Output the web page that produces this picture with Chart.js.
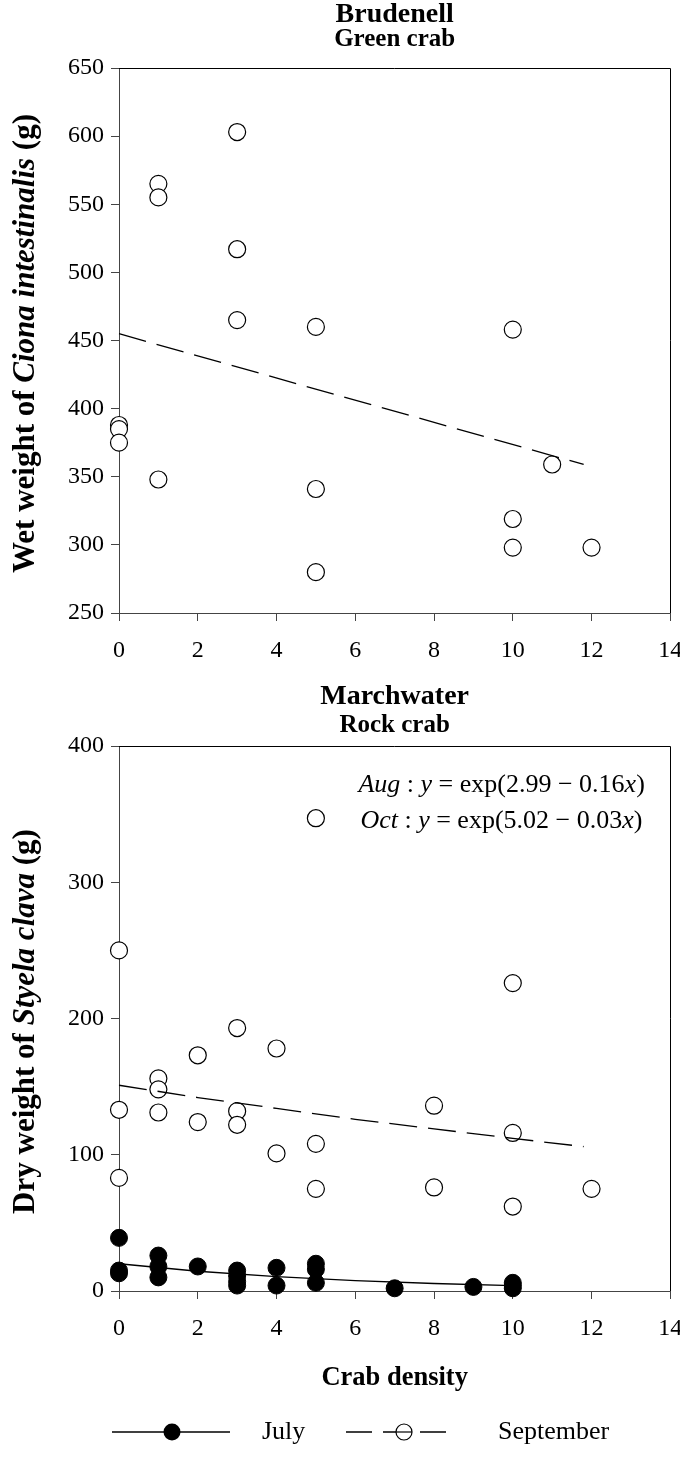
<!DOCTYPE html>
<html><head><meta charset="utf-8">
<script src="https://cdn.jsdelivr.net/npm/chart.js@4.4.0/dist/chart.umd.min.js"></script>
<style>
html,body{margin:0;padding:0;background:#fff;}
#wrap{position:relative;width:680px;height:1460px;background:#fff;}
.box{position:absolute;left:0;width:680px;}
</style></head><body>
<div id="wrap">
<div class="box" style="top:0;height:680px"><canvas id="c1" width="680" height="680"></canvas></div>
<div class="box" style="top:680px;height:780px"><canvas id="c2" width="680" height="780"></canvas></div>
</div>
<script>
// ---------- DATA ----------
const xTickValues = [0, 2, 4, 6, 8, 10, 12, 14];

// Brudenell (Green crab) - September
const brudSepX = [0, 0, 0, 1, 1, 1, 3, 3, 3, 5, 5, 5, 10, 10, 10, 11, 12];
const brudSepY = [388, 385, 375, 565, 555, 348, 603, 517, 465, 460, 341, 280, 458, 319, 298, 359, 298];
const brudFitX = [0, 11.8];
const brudFitY = [455, 359];

// Marchwater (Rock crab) - September
const marSepX = [0, 0, 0, 1, 1, 1, 2, 2, 3, 3, 3, 4, 4, 5, 5, 5, 8, 8, 10, 10, 10, 12];
const marSepY = [250, 133, 83, 156, 148, 131, 173, 124, 193, 132, 122, 178, 101, 347, 108, 75, 136, 76, 226, 116, 62, 75];
const marSepFitX = [0, 2, 4, 6, 8, 10, 11.8];
const marSepFitY = [151, 142, 134, 126, 119, 112, 106];

// Marchwater (Rock crab) - July
const marJulX = [0, 0, 0, 1, 1, 1, 2, 3, 3, 3, 3, 4, 4, 5, 5, 5, 7, 9, 10, 10, 10];
const marJulY = [39, 15, 13, 26, 18, 10, 18, 15, 11, 7, 4, 17, 4, 20, 16, 6, 2, 3, 6, 4, 2];
const marJulFitX = [0, 2, 4, 6, 8, 10];
const marJulFitY = [20, 14.5, 10.5, 7.6, 5.5, 4.0];

// ---------- HELPERS ----------
const SERIF = '"Liberation Serif","Times New Roman",serif';
const TICK_FS = 24;
const AXC = '#444';
const pts = (xs, ys) => xs.map((x, i) => ({x: x, y: ys[i]}));

function runsWidth(ctx, runs, size) {
  let w = 0;
  runs.forEach(r => { ctx.font = (r.f ? r.f + ' ' : '') + size + 'px ' + SERIF; w += ctx.measureText(r.t).width; });
  return w;
}
function drawRuns(ctx, runs, x, y, size, align) {
  const w = runsWidth(ctx, runs, size);
  let cx = align === 'center' ? x - w / 2 : (align === 'right' ? x - w : x);
  ctx.textBaseline = 'middle';
  ctx.textAlign = 'left';
  ctx.fillStyle = '#000';
  runs.forEach(r => {
    ctx.font = (r.f ? r.f + ' ' : '') + size + 'px ' + SERIF;
    ctx.fillText(r.t, cx, y);
    cx += ctx.measureText(r.t).width;
  });
}
function drawFrame(chart) {
  const {ctx, chartArea: a} = chart;
  ctx.save();
  ctx.strokeStyle = '#000';
  ctx.lineWidth = 1;
  ctx.beginPath();
  ctx.moveTo(a.left, Math.round(a.top) + 0.5);
  ctx.lineTo(Math.round(a.right) + 0.5, Math.round(a.top) + 0.5);
  ctx.lineTo(Math.round(a.right) + 0.5, a.bottom);
  ctx.stroke();
  ctx.restore();
}
function drawYTitle(chart, runs, size) {
  const {ctx, chartArea: a} = chart;
  ctx.save();
  ctx.translate(26, (a.top + a.bottom) / 2 + 3);
  ctx.rotate(-Math.PI / 2);
  drawRuns(ctx, runs, 0, 0, size, 'center');
  ctx.restore();
}
function xScaleOpts() {
  return {
    type: 'linear', min: 0, max: 14,
    afterBuildTicks: s => { s.ticks = xTickValues.map(v => ({value: v})); },
    ticks: {font: {family: SERIF, size: TICK_FS}, color: '#000', padding: 15, maxRotation: 0},
    grid: {display: true, drawOnChartArea: false, drawTicks: true, tickLength: 8, color: AXC},
    border: {display: true, color: AXC, width: 1},
    afterFit: s => { s.height = 67; s.paddingLeft = 0; s.paddingRight = 0; }
  };
}
function yScaleOpts(min, max, step) {
  return {
    type: 'linear', min: min, max: max,
    ticks: {stepSize: step, font: {family: SERIF, size: TICK_FS}, color: '#000', padding: 7},
    grid: {display: true, drawOnChartArea: false, drawTicks: true, tickLength: 8, color: AXC},
    border: {display: true, color: AXC, width: 1},
    afterFit: s => { s.width = 119; s.paddingTop = 0; s.paddingBottom = 0; }
  };
}
const openPt = {pointRadius: 8.5, pointHoverRadius: 8.5, pointBackgroundColor: '#fff', pointBorderColor: '#000', pointBorderWidth: 1.2, showLine: false, clip: false};
const filledPt = {pointRadius: 8.5, pointHoverRadius: 8.5, pointBackgroundColor: '#000', pointBorderColor: '#000', pointBorderWidth: 1, showLine: false, clip: false};
const dashLine = {showLine: true, pointRadius: 0, borderColor: '#000', borderWidth: 1.3, borderDash: [28, 11], tension: 0, fill: false, clip: false};
const solidLine = {showLine: true, pointRadius: 0, borderColor: '#000', borderWidth: 1.3, tension: 0, fill: false, clip: false};

const common = {
  responsive: false, animation: false,
  plugins: {legend: {display: false}, tooltip: {enabled: false}, title: {display: false}},
  events: []
};

// ---------- TOP CHART ----------
new Chart(document.getElementById('c1'), {
  type: 'scatter',
  data: {datasets: [
    Object.assign({label: 'fit', data: pts(brudFitX, brudFitY)}, dashLine),
    Object.assign({label: 'September', data: pts(brudSepX, brudSepY)}, openPt)
  ]},
  options: Object.assign({}, common, {
    layout: {padding: {top: 68, left: 0, right: 3, bottom: 0}},
    scales: {x: xScaleOpts(), y: yScaleOpts(250, 650, 50)}
  }),
  plugins: [{
    id: 'deco1',
    afterDraw(chart) {
      const ctx = chart.ctx, a = chart.chartArea;
      drawFrame(chart);
      const cx = (a.left + a.right) / 2;
      ctx.save();
      drawRuns(ctx, [{t: 'Brudenell', f: 'bold'}], cx, 15, 28, 'center');
      drawRuns(ctx, [{t: 'Green crab', f: 'bold'}], cx, 40, 25, 'center');
      drawYTitle(chart, [{t: 'Wet weight of ', f: 'bold'}, {t: 'Ciona intestinalis', f: 'bold italic'}, {t: ' (g)', f: 'bold'}], 31);
      ctx.restore();
    }
  }]
});

// ---------- BOTTOM CHART ----------
new Chart(document.getElementById('c2'), {
  type: 'scatter',
  data: {datasets: [
    Object.assign({label: 'fitJul', data: pts(marJulFitX, marJulFitY)}, solidLine),
    Object.assign({label: 'fitSep', data: pts(marSepFitX, marSepFitY)}, dashLine),
    Object.assign({label: 'July', data: pts(marJulX, marJulY)}, filledPt),
    Object.assign({label: 'September', data: pts(marSepX, marSepY)}, openPt)
  ]},
  options: Object.assign({}, common, {
    layout: {padding: {top: 66, left: 0, right: 3, bottom: 102}},
    scales: {x: xScaleOpts(), y: yScaleOpts(0, 400, 100)}
  }),
  plugins: [{
    id: 'deco2',
    afterDraw(chart) {
      const ctx = chart.ctx, a = chart.chartArea;
      const xs = chart.scales.x, ys = chart.scales.y;
      drawFrame(chart);
      const cx = (a.left + a.right) / 2;
      ctx.save();
      drawRuns(ctx, [{t: 'Marchwater', f: 'bold'}], cx, 17, 28, 'center');
      drawRuns(ctx, [{t: 'Rock crab', f: 'bold'}], cx, 46, 25, 'center');
      drawYTitle(chart, [{t: 'Dry weight of ', f: 'bold'}, {t: 'Styela clava', f: 'bold italic'}, {t: ' (g)', f: 'bold'}], 31);
      // equations
      drawRuns(ctx, [{t: 'Aug', f: 'italic'}, {t: ' : ', f: ''}, {t: 'y', f: 'italic'}, {t: ' = exp(2.99 \u2212 0.16', f: ''}, {t: 'x', f: 'italic'}, {t: ')', f: ''}],
        xs.getPixelForValue(6.08), ys.getPixelForValue(371), 26, 'left');
      drawRuns(ctx, [{t: 'Oct', f: 'italic'}, {t: ' : ', f: ''}, {t: 'y', f: 'italic'}, {t: ' = exp(5.02 \u2212 0.03', f: ''}, {t: 'x', f: 'italic'}, {t: ')', f: ''}],
        xs.getPixelForValue(6.13), ys.getPixelForValue(345), 26, 'left');
      // x title
      drawRuns(ctx, [{t: 'Crab density', f: 'bold'}], cx, 698, 26.5, 'center');
      // legend
      const ly = 752;
      ctx.strokeStyle = '#000'; ctx.lineWidth = 1.3;
      ctx.beginPath(); ctx.moveTo(112, ly); ctx.lineTo(230, ly); ctx.stroke();
      ctx.beginPath(); ctx.arc(172, ly, 8.5, 0, Math.PI * 2); ctx.fillStyle = '#000'; ctx.fill();
      drawRuns(ctx, [{t: 'July', f: ''}], 262, ly, 26, 'left');
      ctx.setLineDash([26, 11]);
      ctx.beginPath(); ctx.moveTo(346, ly); ctx.lineTo(456, ly); ctx.stroke();
      ctx.setLineDash([]);
      ctx.beginPath(); ctx.arc(404, ly, 8, 0, Math.PI * 2); ctx.fillStyle = '#fff'; ctx.fill();
      ctx.lineWidth = 1.2; ctx.stroke();
      ctx.beginPath(); ctx.moveTo(396, ly); ctx.lineTo(412, ly); ctx.lineWidth = 1.2; ctx.stroke();
      drawRuns(ctx, [{t: 'September', f: ''}], 498, ly, 26, 'left');
      ctx.restore();
    }
  }]
});
</script>
</body></html>
